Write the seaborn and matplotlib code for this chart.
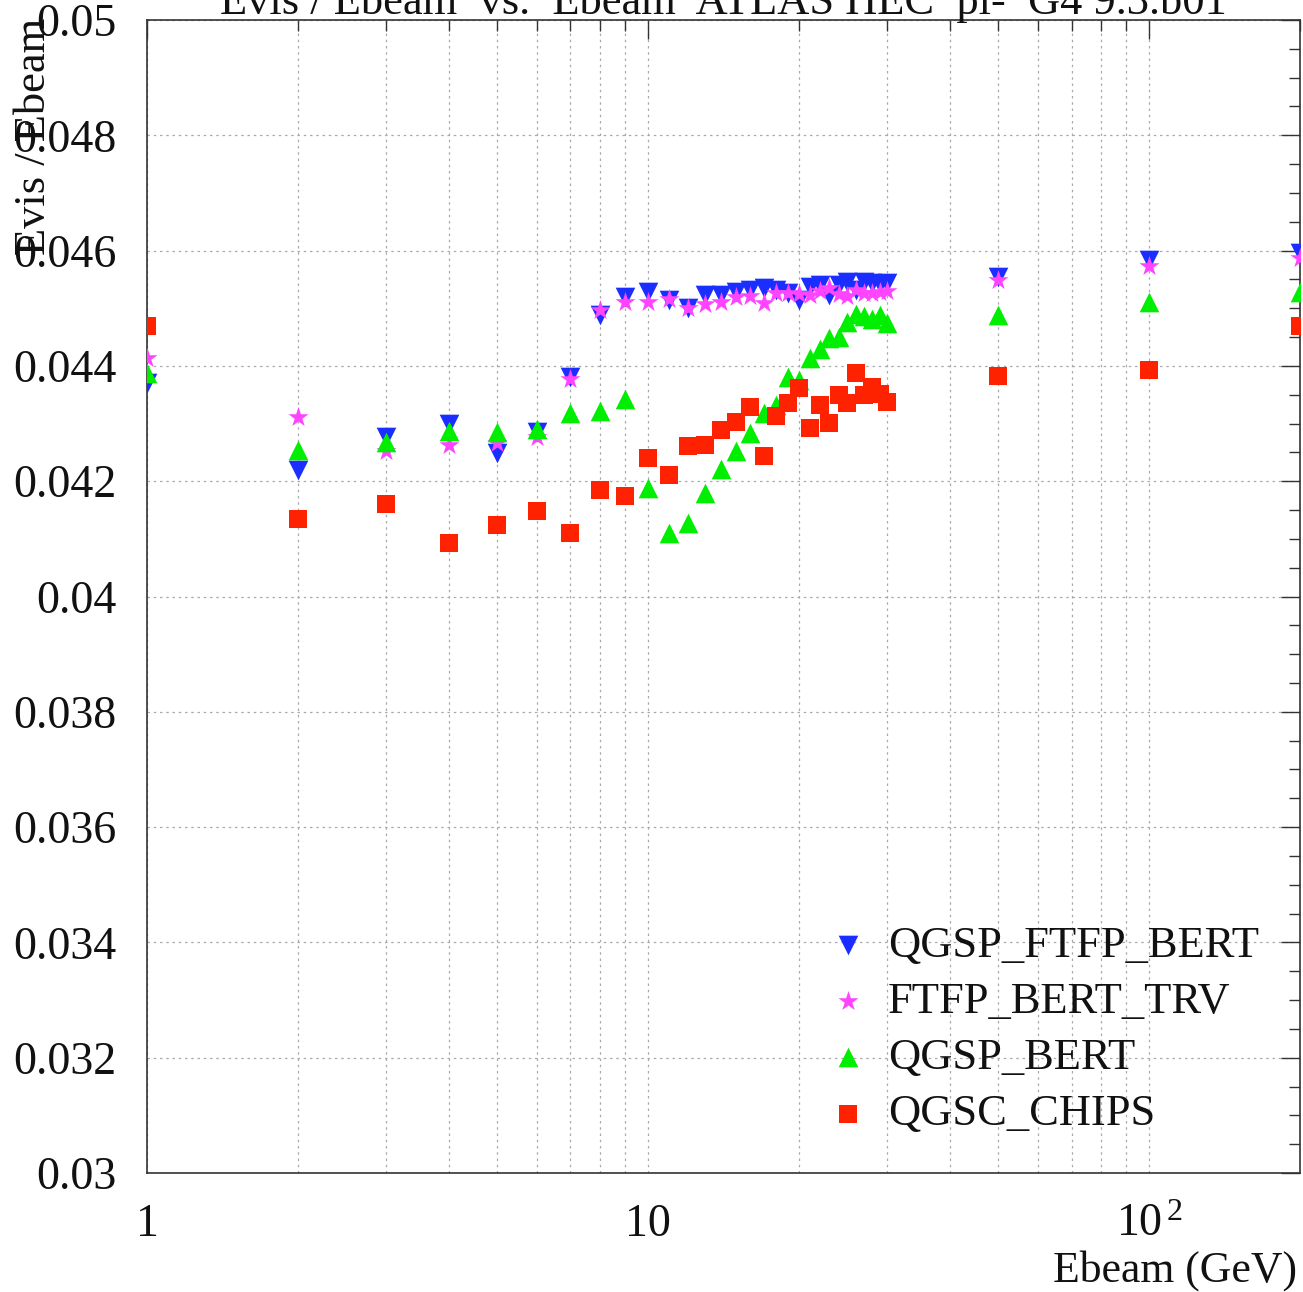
import numpy as np
import pandas as pd
import matplotlib
matplotlib.use("Agg")
import matplotlib.pyplot as plt
import matplotlib.ticker as mticker
import seaborn as sns

# ---------------- data ----------------
ebeam = [1, 2, 3, 4, 5, 6, 7, 8, 9, 10, 11, 12, 13, 14, 15, 16, 17, 18, 19, 20,
         21, 22, 23, 24, 25, 26, 27, 28, 29, 30, 50, 100, 200]

qgsp_ftfp_bert = [0.04370, 0.04220, 0.04277, 0.04299, 0.04249, 0.04285, 0.04381, 0.04488,
                  0.04520, 0.04529, 0.04514, 0.04500, 0.04523, 0.04523, 0.04529, 0.04532,
                  0.04535, 0.04532, 0.04527, 0.04514, 0.04537, 0.04540, 0.04523, 0.04540,
                  0.04546, 0.04532, 0.04546, 0.04543, 0.04542, 0.04543, 0.04555, 0.04583,
                  0.04596]

ftfp_bert_trv = [0.04414, 0.04311, 0.04252, 0.04263, 0.04266, 0.04277, 0.04378, 0.04497,
                 0.04511, 0.04511, 0.04516, 0.04500, 0.04507, 0.04511, 0.04519, 0.04521,
                 0.04509, 0.04526, 0.04526, 0.04525, 0.04523, 0.04530, 0.04535, 0.04525,
                 0.04521, 0.04532, 0.04526, 0.04526, 0.04529, 0.04530, 0.04549, 0.04573,
                 0.04587]

qgsp_bert = [0.04388, 0.04254, 0.04268, 0.04287, 0.04285, 0.04291, 0.04318, 0.04322,
             0.04342, 0.04188, 0.04110, 0.04127, 0.04179, 0.04221, 0.04253, 0.04284,
             0.04318, 0.04332, 0.04380, 0.04376, 0.04413, 0.04429, 0.04448, 0.04450,
             0.04477, 0.04490, 0.04486, 0.04481, 0.04488, 0.04475, 0.04488, 0.04510,
             0.04529]

qgsc_chips = [0.04469, 0.04134, 0.04160, 0.04093, 0.04124, 0.04148, 0.04111, 0.04185,
              0.04175, 0.04240, 0.04211, 0.04261, 0.04263, 0.04288, 0.04303, 0.04329,
              0.04244, 0.04313, 0.04335, 0.04361, 0.04292, 0.04332, 0.04301, 0.04350,
              0.04336, 0.04387, 0.04350, 0.04364, 0.04352, 0.04338, 0.04383, 0.04393,
              0.04469]

model_names = ["QGSP_FTFP_BERT", "FTFP_BERT_TRV", "QGSP_BERT", "QGSC_CHIPS"]
series = [qgsp_ftfp_bert, ftfp_bert_trv, qgsp_bert, qgsc_chips]

title_text = "Evis / Ebeam  vs.  Ebeam  ATLAS HEC  pi-  G4 9.3.b01"
x_label = "Ebeam (GeV)"
y_label = "Evis / Ebeam"
x_tick_vals = [1, 10, 100]
x_tick_labels = ["1", "10", r"$10^{\,2}$"]
y_tick_vals = [0.03, 0.032, 0.034, 0.036, 0.038, 0.04, 0.042, 0.044, 0.046, 0.048, 0.05]
y_tick_labels = ["0.03", "0.032", "0.034", "0.036", "0.038", "0.04", "0.042",
                 "0.044", "0.046", "0.048", "0.05"]

df = pd.concat([pd.DataFrame({"Ebeam": ebeam, "ratio": vals, "model": name})
                for name, vals in zip(model_names, series)], ignore_index=True)

# ---------------- style ----------------
sns.set_theme(style="white")
plt.rcParams["font.family"] = ["Liberation Serif", "DejaVu Serif"]
plt.rcParams["mathtext.fontset"] = "custom"
plt.rcParams["mathtext.rm"] = "Liberation Serif"
plt.rcParams["mathtext.it"] = "Liberation Serif"

palette = {"QGSP_FTFP_BERT": "#1a2eff", "FTFP_BERT_TRV": "#ff44ff",
           "QGSP_BERT": "#00ee00", "QGSC_CHIPS": "#ff2200"}
markers = {"QGSP_FTFP_BERT": "v", "FTFP_BERT_TRV": "*",
           "QGSP_BERT": "^", "QGSC_CHIPS": "s"}
sizes = {"QGSP_FTFP_BERT": 200, "FTFP_BERT_TRV": 230,
         "QGSP_BERT": 200, "QGSC_CHIPS": 180}

fig = plt.figure(figsize=(13.03, 12.92), dpi=100)
ax = fig.add_axes([147 / 1303, 1 - 1173 / 1292, (1300 - 147) / 1303, (1173 - 20) / 1292])

for name in model_names:
    sub = df[df["model"] == name]
    sns.scatterplot(data=sub, x="Ebeam", y="ratio", color=palette[name],
                    marker=markers[name], s=sizes[name], linewidth=0,
                    ax=ax, label=name, clip_on=True, zorder=3)

ax.set_xscale("log")
ax.set_xlim(1, 200)
ax.set_ylim(0.03, 0.05)

ax.set_xticks(x_tick_vals)
ax.set_xticklabels(x_tick_labels)
ax.xaxis.set_minor_locator(mticker.LogLocator(base=10, subs=np.arange(2, 10)))
ax.xaxis.set_minor_formatter(mticker.NullFormatter())
ax.set_yticks(y_tick_vals)
ax.set_yticklabels(y_tick_labels)
ax.yaxis.set_minor_locator(mticker.MultipleLocator(0.0005))

ax.tick_params(axis="both", which="major", direction="in", length=14, width=1,
               labelsize=33, top=True, right=True, color="#333333", labelcolor="#111111")
ax.tick_params(axis="both", which="minor", direction="in", length=8, width=1,
               top=True, right=True, color="#333333")
ax.tick_params(axis="y", which="major", pad=22)
ax.tick_params(axis="x", which="major", pad=22)

ax.grid(True, which="major", axis="both", color="#aaaaaa", linestyle=(0, (2, 3)), linewidth=0.9)
ax.grid(True, which="minor", axis="x", color="#aaaaaa", linestyle=(0, (2, 3)), linewidth=0.9)
ax.set_axisbelow(True)

for sp in ax.spines.values():
    sp.set_color("#333333")
    sp.set_linewidth(1.2)

ax.set_xlabel("")
ax.set_ylabel("")
fig.text(1297 / 1303, 1 - 1282 / 1292, x_label, ha="right", va="baseline",
         fontsize=31.5, color="#111111")
fig.text(34 / 1303, 1 - 18 / 1292, y_label, ha="center", va="top", rotation=90,
         fontsize=32, color="#111111")
fig.text(723 / 1303, 1 - 14 / 1292, title_text, ha="center", va="baseline",
         fontsize=32, color="#111111")

leg = ax.legend(loc="upper left", bbox_to_anchor=(0.577, 0.2298), frameon=False,
                fontsize=32, handlelength=0.8, handletextpad=0.5, labelspacing=0.36,
                borderaxespad=0, markerscale=1.0)
for t in leg.get_texts():
    t.set_color("#111111")

fig.savefig("out.png", dpi=100)
